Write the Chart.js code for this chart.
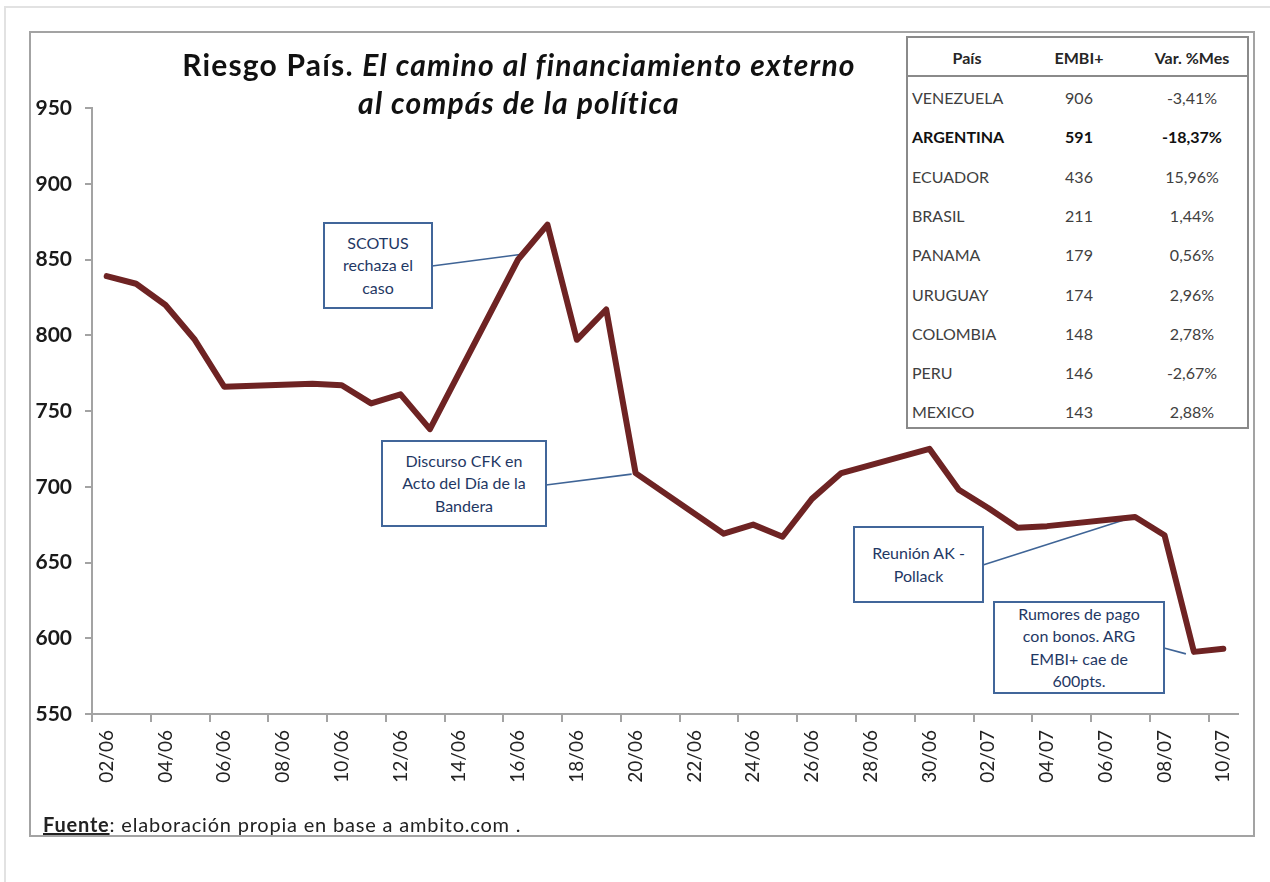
<!DOCTYPE html>
<html><head><meta charset="utf-8">
<script src="https://cdn.jsdelivr.net/npm/chart.js@4.4.1/dist/chart.umd.min.js"></script>
<style>
html,body{margin:0;padding:0;background:#fff;}
#wrap{position:relative;width:1270px;height:882px;overflow:hidden;font-family:Lato,"Open Sans",sans-serif;}
#c{position:absolute;left:0;top:0;}
.page-top{position:absolute;left:5px;top:6px;width:1265px;height:0;border-top:2px solid #e2e2e2;}
.page-left{position:absolute;left:4px;top:6px;width:0;height:876px;border-left:2px solid #e2e2e2;}
.frame{position:absolute;left:29px;top:31px;width:1226px;height:806px;border:2px solid #a3a3a3;box-sizing:border-box;}
.title{position:absolute;left:69px;width:900px;text-align:center;font-weight:bold;font-size:30px;letter-spacing:1.2px;color:#111;white-space:nowrap;line-height:38px;}
.title i{font-style:italic;}
.note{position:absolute;box-sizing:border-box;border:2px solid #41669A;background:#fff;color:#1F3864;font-size:16px;line-height:22.5px;text-align:center;display:flex;flex-direction:column;justify-content:center;align-items:center;}
.tbl{position:absolute;left:906px;top:36px;width:343px;height:393px;box-sizing:border-box;border:2px solid #8a8a8a;background:#fff;color:#404040;font-size:16px;}
.tbl .hline{position:absolute;left:0;right:0;top:37px;border-top:2px solid #8a8a8a;}
.cell{position:absolute;white-space:nowrap;line-height:20px;transform:translateY(-50%);}
.footer{position:absolute;left:43px;top:812px;font-size:20px;letter-spacing:0.8px;color:#222;white-space:nowrap;}
.footer b{text-decoration:underline;}
</style></head>
<body><div id="wrap">
<div class="page-top"></div><div class="page-left"></div>
<div class="frame"></div>
<canvas id="c" width="1270" height="882"></canvas>
<div class="title" style="top:45px;">Riesgo País. <i>El camino al financiamiento externo</i></div>
<div class="title" style="top:83px;"><i>al compás de la política</i></div>
<div id="notes"></div>
<div class="tbl" id="tbl"><div class="hline"></div></div>
<div class="footer"><b>Fuente</b>: elaboración propia en base a ambito.com .</div>
</div>
<script>
// ---- data ----
const categories = ['02/06','03/06','04/06','05/06','06/06','07/06','08/06','09/06','10/06','11/06','12/06','13/06','14/06','15/06','16/06','17/06','18/06','19/06','20/06','21/06','22/06','23/06','24/06','25/06','26/06','27/06','28/06','29/06','30/06','01/07','02/07','03/07','04/07','05/07','06/07','07/07','08/07','09/07','10/07'];
const embiArgentina = [839,834,820,797,766,null,null,768,767,755,761,738,null,null,850,873,797,817,709,null,null,669,675,667,692,709,null,null,725,698,686,673,674,null,null,680,668,591,593];
const yTicks = [550,600,650,700,750,800,850,900,950];
const tableHeader = ['País','EMBI+','Var. %Mes'];
const countries = ['VENEZUELA','ARGENTINA','ECUADOR','BRASIL','PANAMA','URUGUAY','COLOMBIA','PERU','MEXICO'];
const embiValues = [906,591,436,211,179,174,148,146,143];
const varMes = ['-3,41%','-18,37%','15,96%','1,44%','0,56%','2,96%','2,78%','-2,67%','2,88%'];
const noteTexts = [['SCOTUS','rechaza el','caso'],['Discurso CFK en','Acto del Día de la','Bandera'],['Reunión AK -','Pollack'],['Rumores de pago','con bonos. ARG','EMBI+ cae de','600pts.']];
const noteDates = ['16/06','20/06','07/07','09/07'];

// ---- layout of annotation boxes ----
const noteBoxes = [
  {left:323,top:222,w:110,h:87, ax:432,ay:266, dx:2,dy:-5},
  {left:381,top:440,w:166,h:87, ax:546,ay:485, dx:-4,dy:1},
  {left:853,top:526,w:131,h:77, ax:983,ay:565, dx:-5,dy:1},
  {left:993,top:601,w:172,h:93, ax:1164,ay:648, dx:-8,dy:2}
];
const notesEl = document.getElementById('notes');
noteBoxes.forEach((b,i)=>{
  const d=document.createElement('div');d.className='note';
  d.style.left=b.left+'px';d.style.top=b.top+'px';d.style.width=b.w+'px';d.style.height=b.h+'px';
  noteTexts[i].forEach(t=>{const s=document.createElement('div');s.textContent=t;d.appendChild(s);});
  notesEl.appendChild(d);
});

// ---- table ----
const tbl=document.getElementById('tbl');
const colX=[null,171,284];
function cell(txt,x,y,align,bold,color){
  const s=document.createElement('div');s.className='cell';s.textContent=txt;
  s.style.top=y+'px';
  if(align==='left'){s.style.left=x+'px';}
  else{s.style.left=x+'px';s.style.transform='translate(-50%,-50%)';}
  if(bold)s.style.fontWeight='bold';
  if(color)s.style.color=color;
  tbl.appendChild(s);
}
cell(tableHeader[0],59,20,'center',true,'#262626');
cell(tableHeader[1],colX[1],20,'center',true,'#262626');
cell(tableHeader[2],colX[2],20,'center',true,'#262626');
countries.forEach((c,i)=>{
  const y=60+i*39.3;
  const isArg=c==='ARGENTINA';
  cell(c,4,y,'left',isArg,isArg?'#111':null);
  cell(String(embiValues[i]),colX[1],y,'center',isArg,isArg?'#111':null);
  cell(varMes[i],colX[2],y,'center',isArg,isArg?'#111':null);
});

// ---- connectors ----
const connectorPlugin={id:'connectors',beforeDatasetsDraw(chart){
  const {ctx,scales:{x,y}}=chart;
  ctx.save();ctx.strokeStyle='#3F6496';ctx.lineWidth=1.6;
  noteBoxes.forEach((b,i)=>{
    const idx=categories.indexOf(noteDates[i]);
    const px=x.getPixelForValue(idx)+b.dx, py=y.getPixelForValue(embiArgentina[idx])+b.dy;
    ctx.beginPath();ctx.moveTo(b.ax,b.ay);ctx.lineTo(px,py);ctx.stroke();
  });
  ctx.restore();
}};

const axisGray='#a3a3a3';
new Chart(document.getElementById('c'),{
  type:'line',
  data:{labels:categories,datasets:[{data:embiArgentina,borderColor:'#6E2323',borderWidth:6,pointRadius:0,pointHoverRadius:0,tension:0,spanGaps:true,borderJoinStyle:'round',borderCapStyle:'round',fill:false}]},
  options:{
    responsive:false,animation:false,devicePixelRatio:1,
    layout:{padding:{top:108,right:32,left:0,bottom:0}},
    plugins:{legend:{display:false},title:{display:false},tooltip:{enabled:false}},
    scales:{
      x:{type:'category',offset:true,
        grid:{offset:true,drawOnChartArea:false,drawTicks:true,tickLength:8,lineWidth:2,
          color:(c)=>(typeof c.index==='number'&&c.index%2===0&&c.index<categories.length)?axisGray:'rgba(0,0,0,0)'},
        border:{display:true,color:axisGray,width:2},
        ticks:{autoSkip:false,maxRotation:90,minRotation:90,padding:8,color:'#222',font:{family:'Lato',size:19},
          callback:(v,i)=>i%2===0?categories[i]:''},
        afterFit:(s)=>{s.height=168;}
      },
      y:{min:yTicks[0],max:yTicks[yTicks.length-1],
        afterBuildTicks:(s)=>{s.ticks=yTicks.map(v=>({value:v}));},
        ticks:{padding:13,color:'#1a1a1a',font:{family:'Lato',size:21,weight:'bold'}},
        grid:{drawOnChartArea:false,tickLength:7,color:axisGray,lineWidth:2},
        border:{color:axisGray,width:2},
        afterFit:(s)=>{s.width=92;}
      }
    }
  },
  plugins:[connectorPlugin]
});
</script>
</body></html>
